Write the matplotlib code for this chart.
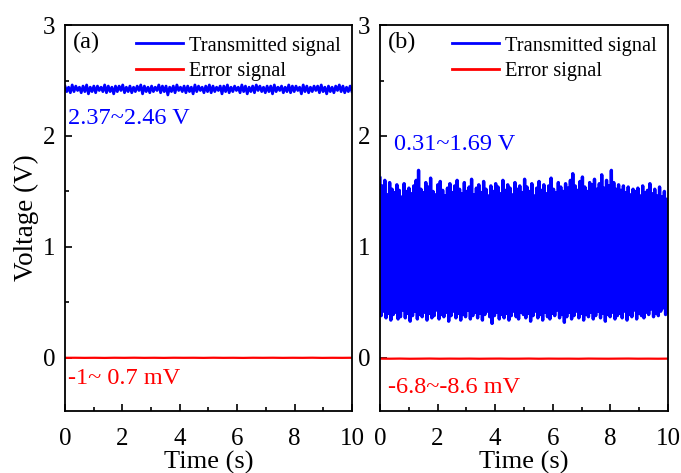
import numpy as np
import matplotlib
matplotlib.use('Agg')
import matplotlib.pyplot as plt
from matplotlib.ticker import MultipleLocator

plt.rcParams['font.family'] = ['Liberation Serif', 'DejaVu Serif']
plt.rcParams['mathtext.fontset'] = 'stix'

# (a) locked: transmitted signal peaks / troughs (V)
a_upper = [2.45, 2.44, 2.46, 2.45, 2.44, 2.45, 2.46, 2.44, 2.45, 2.45,
           2.44, 2.46, 2.45, 2.44, 2.45, 2.45, 2.46, 2.44, 2.45, 2.44,
           2.45, 2.46, 2.45, 2.44, 2.45, 2.44, 2.46, 2.45, 2.45, 2.44,
           2.45, 2.46, 2.44, 2.45, 2.45, 2.44, 2.46, 2.45, 2.44, 2.45,
           2.46, 2.45, 2.44, 2.45, 2.45, 2.46, 2.44, 2.45, 2.44, 2.46,
           2.45, 2.44, 2.45, 2.46, 2.45, 2.44, 2.45, 2.45, 2.46, 2.44,
           2.45, 2.44, 2.46, 2.45, 2.45, 2.44, 2.46, 2.45, 2.44, 2.45,
           2.45, 2.46, 2.44, 2.45, 2.44, 2.45, 2.46, 2.45, 2.44, 2.45]
a_lower = [2.40, 2.39, 2.40, 2.41, 2.39, 2.40, 2.38, 2.40, 2.39, 2.41,
           2.40, 2.39, 2.40, 2.38, 2.40, 2.41, 2.39, 2.40, 2.39, 2.40,
           2.41, 2.38, 2.40, 2.39, 2.40, 2.41, 2.39, 2.40, 2.37, 2.40,
           2.39, 2.41, 2.40, 2.39, 2.40, 2.38, 2.40, 2.41, 2.39, 2.40,
           2.39, 2.40, 2.41, 2.38, 2.40, 2.39, 2.40, 2.41, 2.39, 2.40,
           2.38, 2.40, 2.39, 2.41, 2.40, 2.39, 2.40, 2.38, 2.40, 2.41,
           2.39, 2.40, 2.39, 2.40, 2.41, 2.38, 2.40, 2.39, 2.40, 2.41,
           2.39, 2.40, 2.38, 2.40, 2.39, 2.41, 2.40, 2.39, 2.40, 2.40]
# (a) error signal (mV)
a_error = [-0.2, 0.3, -0.6, 0.1, -1.0, 0.4, -0.3, 0.7, -0.5, 0.2,
           -0.8, 0.5, -0.1, 0.3, -0.7, 0.6, -0.4, 0.1, -0.9, 0.4,
           -0.2, 0.5, -0.6, 0.2, -0.3, 0.7, -0.8, 0.0, -0.4, 0.3]

# (b) unlocked: transmitted signal peaks / troughs (V)
b_upper = [1.62, 1.55, 1.60, 1.47, 1.58, 1.52, 1.49, 1.56, 1.51, 1.45,
           1.57, 1.50, 1.53, 1.48, 1.55, 1.60, 1.69, 1.52, 1.49, 1.58,
           1.54, 1.62, 1.50, 1.47, 1.56, 1.59, 1.51, 1.46, 1.53, 1.57,
           1.49, 1.55, 1.60, 1.52, 1.48, 1.58, 1.50, 1.54, 1.61, 1.47,
           1.53, 1.56, 1.49, 1.59, 1.52, 1.46, 1.55, 1.50, 1.57, 1.54,
           1.48, 1.60, 1.51, 1.56, 1.53, 1.47, 1.58, 1.52, 1.55, 1.49,
           1.61, 1.54, 1.50, 1.57, 1.46, 1.53, 1.59, 1.51, 1.56, 1.48,
           1.55, 1.62, 1.52, 1.49, 1.58, 1.54, 1.50, 1.57, 1.53, 1.60,
           1.66, 1.55, 1.51, 1.59, 1.63, 1.54, 1.50, 1.58, 1.56, 1.61,
           1.52, 1.57, 1.65, 1.53, 1.60, 1.55, 1.69, 1.58, 1.52, 1.56,
           1.51, 1.55, 1.49, 1.54, 1.47, 1.52, 1.50, 1.53, 1.46, 1.55,
           1.49, 1.51, 1.57, 1.48, 1.52, 1.46, 1.54, 1.45, 1.50, 1.43]
b_lower = [0.38, 0.42, 0.36, 0.40, 0.34, 0.39, 0.41, 0.35, 0.37, 0.43,
           0.36, 0.40, 0.33, 0.38, 0.42, 0.35, 0.39, 0.37, 0.41, 0.34,
           0.40, 0.36, 0.38, 0.43, 0.35, 0.39, 0.37, 0.41, 0.33, 0.38,
           0.42, 0.36, 0.40, 0.34, 0.39, 0.37, 0.43, 0.35, 0.38, 0.41,
           0.36, 0.40, 0.34, 0.39, 0.42, 0.37, 0.31, 0.38, 0.41, 0.35,
           0.39, 0.36, 0.40, 0.34, 0.38, 0.42, 0.37, 0.35, 0.41, 0.39,
           0.36, 0.40, 0.33, 0.38, 0.42, 0.36, 0.39, 0.34, 0.41, 0.37,
           0.35, 0.40, 0.38, 0.43, 0.36, 0.39, 0.32, 0.37, 0.41, 0.35,
           0.38, 0.42, 0.36, 0.40, 0.34, 0.39, 0.37, 0.41, 0.35, 0.38,
           0.42, 0.36, 0.40, 0.33, 0.39, 0.37, 0.41, 0.35, 0.38, 0.40,
           0.36, 0.42, 0.34, 0.39, 0.37, 0.43, 0.35, 0.40, 0.38, 0.36,
           0.41, 0.39, 0.44, 0.37, 0.40, 0.38, 0.42, 0.45, 0.39, 0.41]
# (b) error signal (mV)
b_error = [-7.5, -8.1, -7.0, -8.6, -7.8, -6.8, -8.3, -7.4, -8.0, -7.2,
           -8.5, -7.6, -7.1, -8.2, -7.9, -6.9, -8.4, -7.3, -8.0, -7.7,
           -8.6, -7.0, -7.8, -8.2, -7.4, -6.8, -8.1, -7.6, -8.3, -7.5]

t_max = 10


def zigzag(upper, lower):
    # alternate peaks and troughs into one trace
    y = np.empty(len(upper) * 2)
    y[0::2] = upper
    y[1::2] = lower
    return np.linspace(0, t_max, len(y)), y


fig = plt.figure(figsize=(6.81, 4.73), dpi=100)
ax1 = fig.add_axes([0.0954, 0.131, 0.4214, 0.816])
ax2 = fig.add_axes([0.558, 0.131, 0.4229, 0.816])

# axes, peaks, troughs, error, tag, blue label (x, y), red label (x, y), trace width
panels = [(ax1, a_upper, a_lower, a_error, '(a)', '2.37~2.46 V', (0.1, 2.16),
           '-1~ 0.7 mV', (0.1, -0.19), 2.0),
          (ax2, b_upper, b_lower, b_error, '(b)', '0.31~1.69 V', (0.5, 1.92),
           '-6.8~-8.6 mV', (0.28, -0.27), 2.4)]

for ax, up, lo, err, tag, blue_txt, blue_xy, red_txt, red_xy, lw in panels:
    t, v = zigzag(up, lo)
    ax.plot(t, v, color='#0000ff', lw=lw, label='Transmitted signal')
    te = np.linspace(0, t_max, len(err))
    ax.plot(te, np.array(err) / 1000.0, color='#ff0000', lw=1.6, label='Error signal')

    ax.set_xlim(0, t_max)
    ax.set_ylim(-0.48, 3.0)
    ax.xaxis.set_major_locator(MultipleLocator(2))
    ax.xaxis.set_minor_locator(MultipleLocator(1))
    ax.yaxis.set_major_locator(MultipleLocator(1))
    ax.yaxis.set_minor_locator(MultipleLocator(0.5))
    ax.tick_params(which='both', direction='in', top=False, right=False,
                   labelsize=18, width=1.2)
    ax.tick_params(axis='x', pad=12)
    ax.tick_params(axis='y', pad=7)
    ax.tick_params(which='major', length=5)
    ax.tick_params(which='minor', length=3)
    for sp in ax.spines.values():
        sp.set_linewidth(1.3)
    ax.set_xlabel('Time (s)', fontsize=19, labelpad=1)

    ax.text(0.028, 0.956, tag, transform=ax.transAxes, fontsize=17.5, va='center', ha='left')
    ax.text(blue_xy[0], blue_xy[1], blue_txt, color='#0000ff', fontsize=17.5, va='center')
    ax.text(red_xy[0], red_xy[1], red_txt, color='#ff0000', fontsize=17.5, va='center')
    leg = ax.legend(loc='upper right', frameon=False, fontsize=14.7, handlelength=2.3,
                    handletextpad=0.3, labelspacing=0.3, borderaxespad=0.15,
                    bbox_to_anchor=(1.0, 1.0))
    for h in leg.get_lines():
        h.set_linewidth(2.0)

ax1.set_ylabel('Voltage (V)', fontsize=19.5, labelpad=3)

fig.savefig('out.png', dpi=100)
